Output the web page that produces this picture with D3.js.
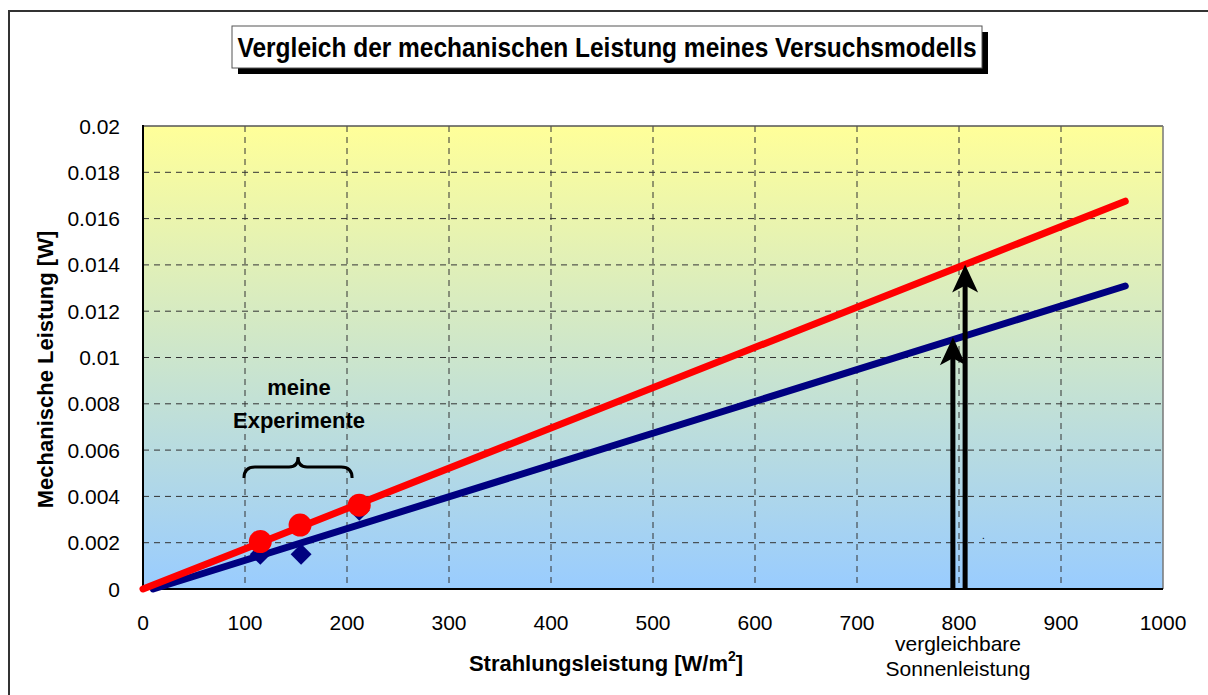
<!DOCTYPE html>
<html>
<head>
<meta charset="utf-8">
<script src="https://cdn.jsdelivr.net/npm/d3@7"></script>
<style>
  body { margin: 0; background: #fff; }
  svg { font-family: "Liberation Sans", Arial, sans-serif; }
</style>
</head>
<body>
<div id="chart"></div>
<script>
    // data
    const xTicks = [0, 100, 200, 300, 400, 500, 600, 700, 800, 900, 1000];
    const yTicks = [0, 0.002, 0.004, 0.006, 0.008, 0.01, 0.012, 0.014, 0.016, 0.018, 0.02];
    const redX = [115, 154, 212];
    const redY = [0.00205, 0.00276, 0.00362];
    const blueX = [115, 155, 212];
    const blueY = [0.0015, 0.0015, 0.0034];
    const redTrend = [[0, 0], [963, 0.01675]];
    const blueTrend = [[10, 0], [963, 0.01309]];
    const arrows = [[794, 0.01088], [806, 0.01402]];

    const width = 1208, height = 695;
    const plot = { left: 143, right: 1163, top: 126, bottom: 589 };

    const svg = d3.select("#chart").append("svg")
        .attr("width", width)
        .attr("height", height);

    const x = d3.scaleLinear().domain([0, 1000]).range([plot.left, plot.right]);
    const y = d3.scaleLinear().domain([0, 0.02]).range([plot.bottom, plot.top]);

    const defs = svg.append("defs");
    const grad = defs.append("linearGradient")
        .attr("id", "bg")
        .attr("x1", 0).attr("y1", 0).attr("x2", 0).attr("y2", 1);
    grad.append("stop").attr("offset", "0%").attr("stop-color", "#ffff99");
    grad.append("stop").attr("offset", "100%").attr("stop-color", "#99ccff");

    // outer frame
    svg.append("rect")
        .attr("x", 9).attr("y", 11)
        .attr("width", 1220).attr("height", 720)
        .attr("fill", "none")
        .attr("stroke", "#333")
        .attr("stroke-width", 2);

    // plot background
    svg.append("rect")
        .attr("x", plot.left).attr("y", plot.top)
        .attr("width", plot.right - plot.left)
        .attr("height", plot.bottom - plot.top)
        .attr("fill", "url(#bg)");

    // grid
    svg.append("g").selectAll("line")
        .data(yTicks.slice(1, -1))
        .enter().append("line")
        .attr("x1", plot.left).attr("x2", plot.right)
        .attr("y1", d => y(d)).attr("y2", d => y(d))
        .attr("stroke", "#333").attr("stroke-width", 1)
        .attr("stroke-dasharray", "6,5");
    svg.append("g").selectAll("line")
        .data(xTicks.slice(1, -1))
        .enter().append("line")
        .attr("x1", d => x(d)).attr("x2", d => x(d))
        .attr("y1", plot.top).attr("y2", plot.bottom)
        .attr("stroke", "#333").attr("stroke-width", 1)
        .attr("stroke-dasharray", "6,5");

    // plot border
    svg.append("line")
        .attr("x1", plot.left).attr("x2", plot.right)
        .attr("y1", plot.top).attr("y2", plot.top)
        .attr("stroke", "#555").attr("stroke-width", 1.5);
    svg.append("line")
        .attr("x1", plot.right).attr("x2", plot.right)
        .attr("y1", plot.top).attr("y2", plot.bottom)
        .attr("stroke", "#777").attr("stroke-width", 1.5);
    svg.append("line")
        .attr("x1", plot.left).attr("x2", plot.left)
        .attr("y1", plot.top - 1).attr("y2", plot.bottom + 1)
        .attr("stroke", "#000").attr("stroke-width", 2);
    svg.append("line")
        .attr("x1", plot.left).attr("x2", plot.right)
        .attr("y1", plot.bottom).attr("y2", plot.bottom)
        .attr("stroke", "#000").attr("stroke-width", 2);

    // tick labels
    svg.append("g").selectAll("text")
        .data(yTicks)
        .enter().append("text")
        .attr("x", plot.left - 23)
        .attr("y", d => y(d) + 7.5)
        .attr("text-anchor", "end")
        .attr("font-size", 21)
        .text(d => d3.format("")(+d.toFixed(3)));
    svg.append("g").selectAll("text")
        .data(xTicks)
        .enter().append("text")
        .attr("x", d => x(d))
        .attr("y", plot.bottom + 41)
        .attr("text-anchor", "middle")
        .attr("font-size", 21)
        .text(d => d);

    // axis titles
    svg.append("text")
        .attr("transform", "translate(53," + ((plot.top + plot.bottom) / 2 + 12) + ") rotate(-90)")
        .attr("text-anchor", "middle")
        .attr("font-size", 22)
        .attr("font-weight", "bold")
        .text("Mechanische Leistung [W]");
    const xt = svg.append("text")
        .attr("x", 606).attr("y", 671)
        .attr("text-anchor", "middle")
        .attr("font-size", 22)
        .attr("font-weight", "bold");
    xt.append("tspan").text("Strahlungsleistung [W/m");
    xt.append("tspan").attr("font-size", 14).attr("dy", -10).text("2");
    xt.append("tspan").attr("dy", 10).text("]");

    // trend lines
    const line = d3.line().x(d => x(d[0])).y(d => y(d[1]));
    svg.append("path")
        .attr("d", line(blueTrend))
        .attr("fill", "none")
        .attr("stroke", "#000080")
        .attr("stroke-width", 7)
        .attr("stroke-linecap", "round");

    // blue diamonds
    svg.append("g").selectAll("path")
        .data(blueX.map((v, i) => [v, blueY[i]]))
        .enter().append("path")
        .attr("d", d3.symbol().type(d3.symbolDiamond2).size(280))
        .attr("transform", d => "translate(" + x(d[0]) + "," + y(d[1]) + ")")
        .attr("fill", "#000080");

    svg.append("path")
        .attr("d", line(redTrend))
        .attr("fill", "none")
        .attr("stroke", "#ff0000")
        .attr("stroke-width", 7)
        .attr("stroke-linecap", "round");

    // red circles
    svg.append("g").selectAll("circle")
        .data(redX.map((v, i) => [v, redY[i]]))
        .enter().append("circle")
        .attr("cx", d => x(d[0]))
        .attr("cy", d => y(d[1]))
        .attr("r", 11.5)
        .attr("fill", "#ff0000");

    // arrows at 800 W/m2
    arrows.forEach(a => {
        const ax = x(a[0]), tip = y(a[1]);
        svg.append("line")
            .attr("x1", ax).attr("x2", ax)
            .attr("y1", plot.bottom).attr("y2", tip + 12)
            .attr("stroke", "#000").attr("stroke-width", 5);
        svg.append("path")
            .attr("d", "M" + ax + "," + tip +
                " L" + (ax + 13) + "," + (tip + 28) +
                " L" + ax + "," + (tip + 21) +
                " L" + (ax - 13) + "," + (tip + 28) + " Z")
            .attr("fill", "#000");
    });

    // brace and annotation
    const bx0 = x(99), bx1 = x(205), bm = (bx0 + bx1) / 2, by = 467;
    svg.append("path")
        .attr("d", "M" + bx0 + "," + (by + 11) +
            " Q" + bx0 + "," + by + " " + (bx0 + 11) + "," + by +
            " L" + (bm - 9) + "," + by +
            " Q" + bm + "," + by + " " + bm + "," + (by - 10) +
            " Q" + bm + "," + by + " " + (bm + 9) + "," + by +
            " L" + (bx1 - 11) + "," + by +
            " Q" + bx1 + "," + by + " " + bx1 + "," + (by + 11))
        .attr("fill", "none")
        .attr("stroke", "#000")
        .attr("stroke-width", 3);
    svg.append("text")
        .attr("x", 299).attr("y", 395)
        .attr("text-anchor", "middle")
        .attr("font-size", 22).attr("font-weight", "bold")
        .text("meine");
    svg.append("text")
        .attr("x", 299).attr("y", 428)
        .attr("text-anchor", "middle")
        .attr("font-size", 22).attr("font-weight", "bold")
        .text("Experimente");

    svg.append("text")
        .attr("x", 958).attr("y", 651)
        .attr("text-anchor", "middle")
        .attr("font-size", 21)
        .text("vergleichbare");
    svg.append("text")
        .attr("x", 958).attr("y", 676)
        .attr("text-anchor", "middle")
        .attr("font-size", 21)
        .text("Sonnenleistung");
    svg.append("text")
        .attr("x", 982).attr("y", 539)
        .attr("font-size", 10)
        .text(".");

    // title box with shadow
    svg.append("rect")
        .attr("x", 238).attr("y", 32)
        .attr("width", 750).attr("height", 42)
        .attr("fill", "#000");
    svg.append("rect")
        .attr("x", 232).attr("y", 26)
        .attr("width", 750).attr("height", 42)
        .attr("fill", "#fff")
        .attr("stroke", "#555")
        .attr("stroke-width", 1);
    svg.append("text")
        .attr("transform", "translate(607,57) scale(1,1.12)")
        .attr("text-anchor", "middle")
        .attr("font-size", 24.5).attr("font-weight", "bold")
        .text("Vergleich der mechanischen Leistung meines Versuchsmodells");
</script>
</body>
</html>
